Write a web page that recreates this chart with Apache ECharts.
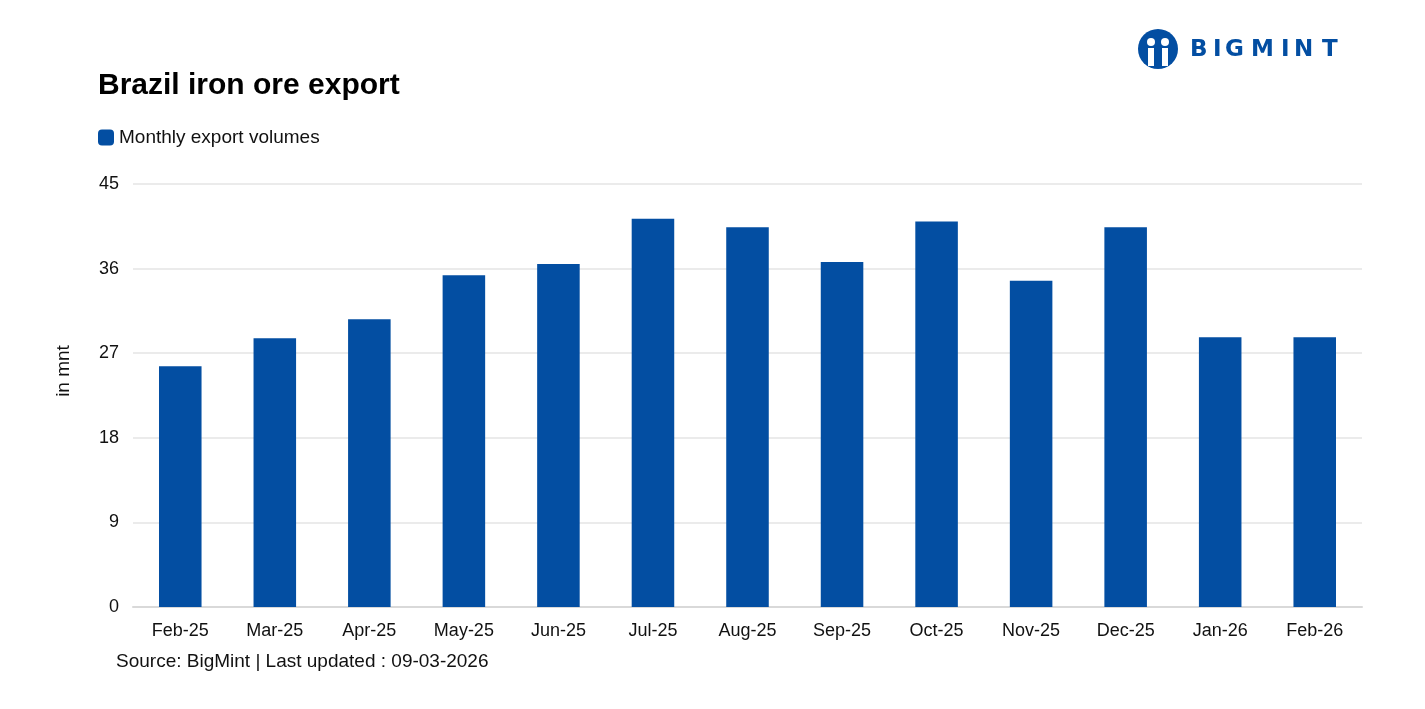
<!DOCTYPE html>
<html><head><meta charset="utf-8">
<script src="https://cdn.jsdelivr.net/npm/echarts@6/dist/echarts.min.js"></script>
<style>html,body{margin:0;padding:0;background:#fff}#c{width:1425px;height:709px}</style>
</head><body><div id="c"></div>
<script>
const categories = ['Feb-25','Mar-25','Apr-25','May-25','Jun-25','Jul-25','Aug-25','Sep-25','Oct-25','Nov-25','Dec-25','Jan-26','Feb-26'];
const exportVolumes = [25.6, 28.6, 30.6, 35.3, 36.5, 41.3, 40.4, 36.7, 41.0, 34.7, 40.4, 28.7, 28.7];
const yTicks = [0, 9, 18, 27, 36, 45];

const chart = echarts.init(document.getElementById('c'));
const F = 'Liberation Sans, Arial, sans-serif';
const BLUE = '#034EA2';
const logoLetters = ['B','I','G','M','I','N','T'];
const logoX = [0, 23, 35, 61, 91, 104, 132];
const logoChildren = [
  {type: 'circle', shape: {cx: 20, cy: 20, r: 20}, style: {fill: BLUE}},
  {type: 'circle', shape: {cx: 13, cy: 13, r: 4}, style: {fill: '#fff'}},
  {type: 'circle', shape: {cx: 27, cy: 13, r: 4}, style: {fill: '#fff'}},
  {type: 'rect', shape: {x: 10, y: 19, width: 6, height: 18}, style: {fill: '#fff'}},
  {type: 'rect', shape: {x: 24, y: 19, width: 6, height: 18}, style: {fill: '#fff'}}
].concat(logoLetters.map((ch, i) => ({type: 'text', x: 52 + logoX[i], y: 10,
  style: {text: ch, fontSize: 23, fontWeight: 'bold', fill: BLUE, fontFamily: 'DejaVu Sans, sans-serif'}})));

chart.setOption({
  animation: false,
  textStyle: {fontFamily: F},
  title: {text: 'Brazil iron ore export', left: 93, top: 66,
    textStyle: {fontSize: 30, fontWeight: 'bold', color: '#000', fontFamily: F}},
  legend: {left: 93, top: 123, itemWidth: 16, itemHeight: 16, itemGap: 4,
    icon: 'roundRect',
    textStyle: {fontSize: 19, color: '#111', fontFamily: F},
    data: ['Monthly export volumes']},
  grid: {left: 133, right: 63, top: 184, bottom: 102},
  xAxis: {type: 'category', data: categories,
    axisLine: {lineStyle: {color: '#d9d9d9', width: 2}},
    axisTick: {show: false},
    axisLabel: {fontSize: 18, color: '#111', margin: 15, fontFamily: F}},
  yAxis: {type: 'value', min: yTicks[0], max: yTicks[yTicks.length-1], interval: 9,
    axisLine: {show: false}, axisTick: {show: false},
    axisLabel: {fontSize: 18, color: '#111', margin: 14, fontFamily: F},
    splitLine: {lineStyle: {color: '#ebebeb', width: 2}}},
  series: [{name: 'Monthly export volumes', type: 'bar', data: exportVolumes,
    barWidth: '45%', itemStyle: {color: BLUE}}],
  graphic: [
    {type: 'text', x: 64, y: 371, rotation: Math.PI / 2,
      style: {text: 'in mnt', fontSize: 19, fill: '#111', fontFamily: F, align: 'center', verticalAlign: 'middle'}},
    {type: 'text', left: 116, top: 652, style: {text: 'Source: BigMint | Last updated : 09-03-2026',
      fontSize: 19, fill: '#111', fontFamily: F}},
    {type: 'group', left: 1138, top: 29, children: logoChildren}
  ]
});
</script></body></html>
